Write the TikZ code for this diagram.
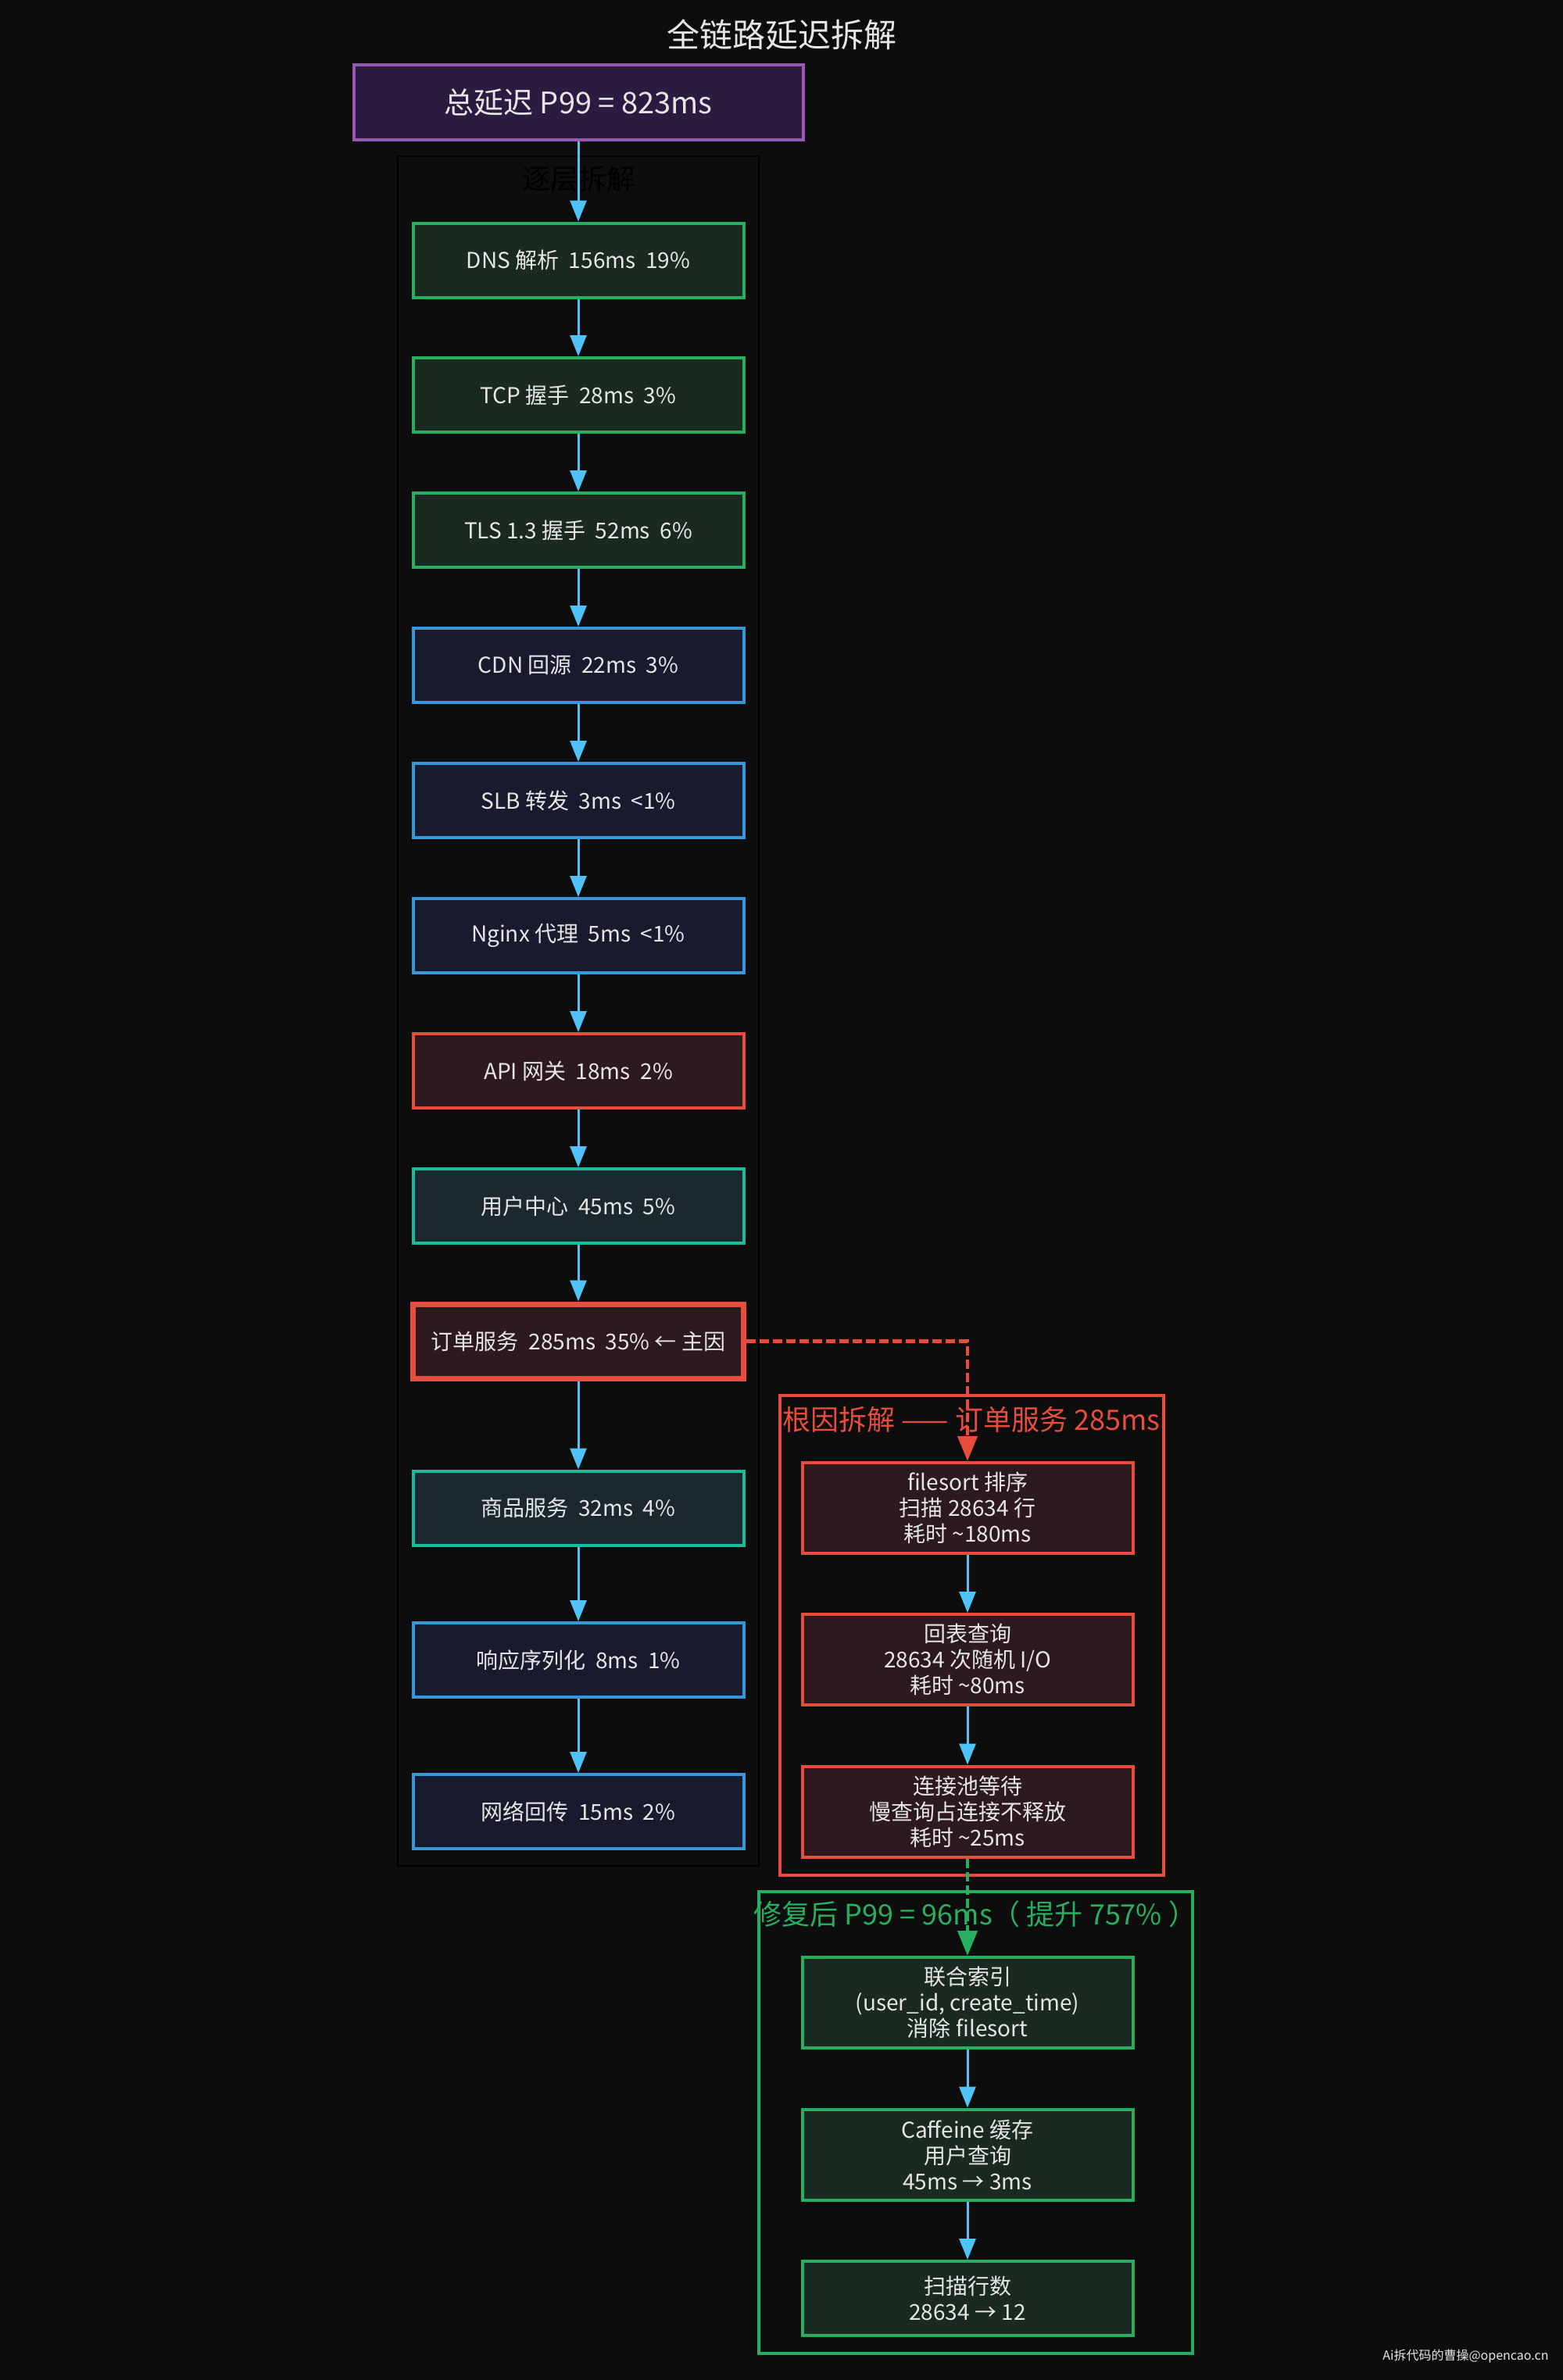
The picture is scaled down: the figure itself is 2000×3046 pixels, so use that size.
\documentclass[tikz,border=0pt]{standalone}
\usepackage{fontspec}
\setmainfont{Noto Sans CJK SC}
\usetikzlibrary{arrows.meta}
\definecolor{bg}{HTML}{0D0D0D}
\definecolor{txt}{HTML}{E6E6E6}
\definecolor{ablue}{HTML}{4FC3F7}
\definecolor{gbd}{HTML}{27AE60}\definecolor{gfl}{HTML}{1B2A20}
\definecolor{bbd}{HTML}{3498DB}\definecolor{bfl}{HTML}{1A1A2E}
\definecolor{rbd}{HTML}{E74C3C}\definecolor{rfl}{HTML}{2C1A1E}
\definecolor{tbd}{HTML}{1ABC9C}\definecolor{tfl}{HTML}{1B282D}
\definecolor{pbd}{HTML}{9B59B6}\definecolor{pfl}{HTML}{2C1B40}
\tikzset{
  box/.style={draw, line width=2pt, minimum width=211.5pt, minimum height=47.5pt, inner sep=0pt, text=txt, font=\fontsize{14}{16.5}\selectfont, align=center},
  gbox/.style={box, draw=gbd, fill=gfl},
  bbox/.style={box, draw=bbd, fill=bfl},
  rbox/.style={box, draw=rbd, fill=rfl},
  tbox/.style={box, draw=tbd, fill=tfl},
  tallbox/.style={minimum height=58pt},
  arr/.style={draw=ablue, line width=1.5pt, -{Triangle[width=10.5pt,length=13.5pt]}},
  rdash/.style={draw=rbd, line width=2.2pt, dash pattern=on 6pt off 2.5pt, -{Triangle[width=12.5pt,length=16pt]}},
  gdash/.style={draw=gbd, line width=2.2pt, dash pattern=on 6pt off 2.5pt, -{Triangle[width=12.5pt,length=16pt]}},
  grouplbl/.style={font=\fontsize{18}{21}\selectfont, inner sep=0pt}
}
\begin{document}
\begin{tikzpicture}[x=0.5pt,y=-0.5pt]
\fill[bg] (0,0) rectangle (2000,3046);
\useasboundingbox (0,0) rectangle (2000,3046);

\node[text=txt, font=\fontsize{21}{24}\selectfont] (title) at (1000,44) {全链路延迟拆解};

% group frames
\draw[black, line width=1pt] (509,200) rectangle (971,2388);
\node[grouplbl, text=black] (g1) at (740,229) {逐层拆解};
\draw[rbd, line width=2pt] (998,1786) rectangle (1489,2400);
\node[grouplbl, text=rbd] (g2) at (1243,1817) {根因拆解 —— 订单服务 285ms};
\draw[gbd, line width=2pt] (971,2421) rectangle (1526,3012);
\node[grouplbl, text=gbd] (g3) at (1248,2450) {修复后 P99 = 96ms（ 提升 757\% ）};

\node[draw=pbd, fill=pfl, line width=2pt, minimum width=287.5pt, minimum height=48pt, inner sep=0pt, text=txt, font=\fontsize{19}{22}\selectfont] (top) at (740,131) {总延迟 P99 = 823ms};

\node[gbox] (dns) at (740,333) {DNS 解析~~156ms~~19\%};
\node[gbox] (tcp) at (740,505.5) {TCP 握手~~28ms~~3\%};
\node[gbox] (tls) at (740,678.5) {TLS 1.3 握手~~52ms~~6\%};
\node[bbox] (cdn) at (740,851.5) {CDN 回源~~22ms~~3\%};
\node[bbox] (slb) at (740,1024.5) {SLB 转发~~3ms~~<1\%};
\node[bbox] (ngx) at (740,1197.5) {Nginx 代理~~5ms~~<1\%};
\node[rbox] (api) at (740,1370.5) {API 网关~~18ms~~2\%};
\node[tbox] (user) at (740,1543.5) {用户中心~~45ms~~5\%};
\node[rbox, line width=3.5pt] (order) at (740,1716.5) {订单服务~~285ms~~35\% ← 主因};
\node[tbox] (goods) at (740,1930) {商品服务~~32ms~~4\%};
\node[bbox] (resp) at (740,2124.5) {响应序列化~~8ms~~1\%};
\node[bbox] (net) at (740,2318.5) {网络回传~~15ms~~2\%};

\node[rbox, tallbox] (fs) at (1238,1930) {filesort 排序\\扫描 28634 行\\耗时 \textasciitilde180ms};
\node[rbox, tallbox] (back) at (1238,2124) {回表查询\\28634 次随机 I/O\\耗时 \textasciitilde80ms};
\node[rbox, tallbox] (pool) at (1238,2318.5) {连接池等待\\慢查询占连接不释放\\耗时 \textasciitilde25ms};

\node[gbox, tallbox] (idx) at (1238,2563) {联合索引\\(user\_id, create\_time)\\消除 filesort};
\node[gbox, tallbox] (caf) at (1238,2757.5) {Caffeine 缓存\\用户查询\\45ms → 3ms};
\node[gbox] (scan) at (1238,2941.5) {扫描行数\\28634 → 12};

\draw[arr] (top) -- (dns);
\draw[arr] (dns) -- (tcp);
\draw[arr] (tcp) -- (tls);
\draw[arr] (tls) -- (cdn);
\draw[arr] (cdn) -- (slb);
\draw[arr] (slb) -- (ngx);
\draw[arr] (ngx) -- (api);
\draw[arr] (api) -- (user);
\draw[arr] (user) -- (order);
\draw[arr] (order) -- (goods);
\draw[arr] (goods) -- (resp);
\draw[arr] (resp) -- (net);
\draw[arr] (fs) -- (back);
\draw[arr] (back) -- (pool);
\draw[arr] (idx) -- (caf);
\draw[arr] (caf) -- (scan);
\draw[rdash] (order.east) -| (fs.north);
\draw[gdash] (pool.south) -- (idx.north);

\node[text=txt, font=\fontsize{8}{10}\selectfont, anchor=east, inner sep=0pt] (wm) at (1982,3016) {Ai拆代码的曹操@opencao.cn};
\end{tikzpicture}
\end{document}
